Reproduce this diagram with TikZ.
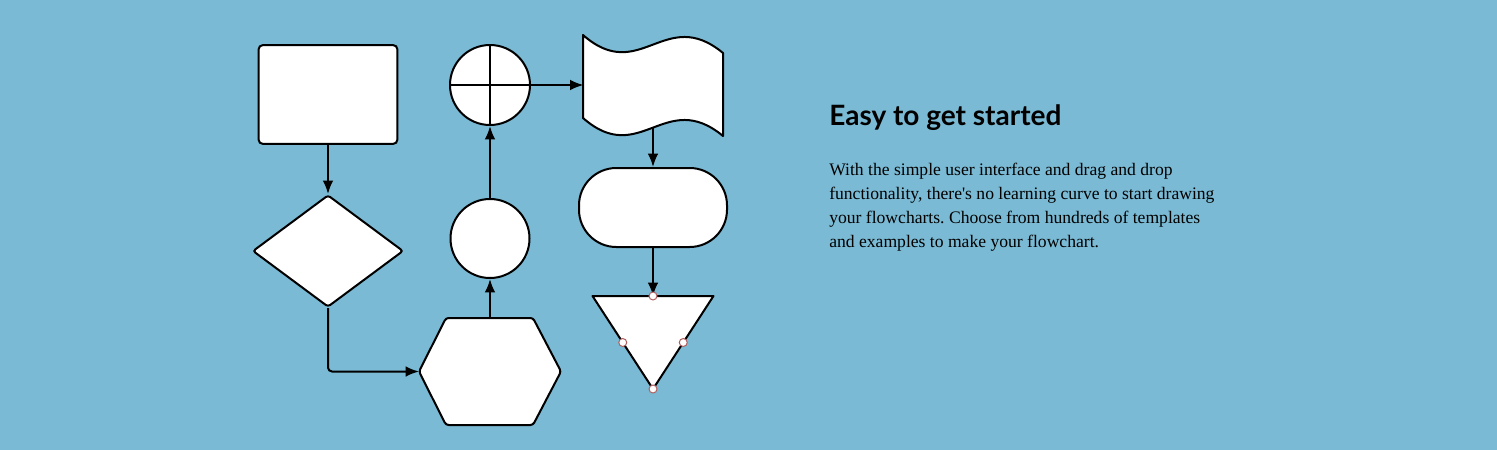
\documentclass[tikz,border=0pt]{standalone}
\usepackage{fontspec}
\setmainfont{Liberation Serif}
\newfontfamily\headfont{Lato}
\usetikzlibrary{shapes.geometric,calc,arrows.meta}
\definecolor{bgblue}{RGB}{122,186,212}
\definecolor{handlered}{RGB}{176,96,96}
\tikzset{
  shape box/.style = {draw, fill=white, line width=1.5pt, inner sep=0pt},
  ghost/.style = {inner sep=0pt, outer sep=0pt},
  link/.style = {line width=1.5pt, -{Latex[length=10pt,width=8pt]}},
  handle/.style = {draw=handlered, fill=white, line width=0.75pt}
}
\frenchspacing

\begin{document}
\begin{tikzpicture}[x=0.75pt,y=-0.75pt]
  % background
  \fill[bgblue] (0,0) rectangle (1497,450);
  \useasboundingbox (0,0) rectangle (1497,450);
  % left column
  \node[shape box, rounded corners=3pt, minimum width=104pt, minimum height=74pt] (proc) at (328,94.5) {};
  \node[shape box, diamond, rounded corners=2pt, minimum width=113pt, minimum height=84pt] (dec) at (328,251) {};
  % middle column
  \node[ghost, minimum width=106.5pt, minimum height=80.25pt] (hex) at (490,371.5) {};
  \draw[line width=1.5pt, fill=white, rounded corners=2pt] (hex.west) -- ($(hex.north west)+(27,0)$) -- ($(hex.north east)+(-28,0)$)
    -- (hex.east) -- ($(hex.south east)+(-28,0)$) -- ($(hex.south west)+(27,0)$) -- cycle;
  \node[shape box, circle, minimum size=59.25pt] (conn) at (490,238.5) {};
  \node[shape box, circle, minimum size=60pt] (sum) at (490,85) {};
  \draw[line width=1.5pt] (sum.north) -- (sum.south) (sum.west) -- (sum.east);
  % right column
  \node[ghost, minimum width=104.25pt, minimum height=64.5pt] (tape) at (653,85) {};
  \draw[line width=1.5pt, fill=white, line join=round] (583,35) .. controls (640,85) and (665,5) .. (723,53) -- (723,136)
    .. controls (665,88) and (640,168) .. (583,118) -- cycle;
  \node[shape box, rounded corners=28pt, minimum width=111pt, minimum height=59.25pt] (term) at (653,207.5) {};
  \node[ghost, minimum width=90.75pt, minimum height=69.75pt] (tri) at (653,342.5) {};
  \draw[line width=1.5pt, fill=white, line join=round] (tri.north west) -- (tri.north east) -- (tri.south) -- cycle;
  % connectors
  \draw[link] (proc.south) -- (dec.north);
  \draw[link, rounded corners=3pt] (dec.south) |- (hex.west);
  \draw[link] (hex.north) -- (conn.south);
  \draw[link] (conn.north) -- (sum.south);
  \draw[link] (sum.east) -- (tape.west);
  \draw[link] (tape.south) -- (term.north);
  \draw[link] (term.south) -- (tri.north);
  % handles
  \draw[handle] (tri.north) circle (4);
  \draw[handle] (tri.south) circle (4);
  \draw[handle] ($(tri.north west)!0.5!(tri.south)$) circle (4);
  \draw[handle] ($(tri.north east)!0.5!(tri.south)$) circle (4);
  % text
  \node[anchor=base west, inner sep=0pt, font=\headfont\bfseries\fontsize{21}{25}\selectfont] (title) at (829,125) {Easy to get started};
  \foreach \txt [count=\i] in {
    {With the simple user interface and drag and drop},
    {functionality, there\textquotesingle s no learning curve to start drawing},
    {your flowcharts. Choose from hundreds of templates},
    {and examples to make your flowchart.}}
  {
    \node[anchor=base west, inner sep=0pt, font=\fontsize{13.2}{18}\selectfont] (line\i) at (829,151+24*\i) {\txt};
  }
\end{tikzpicture}
\end{document}
